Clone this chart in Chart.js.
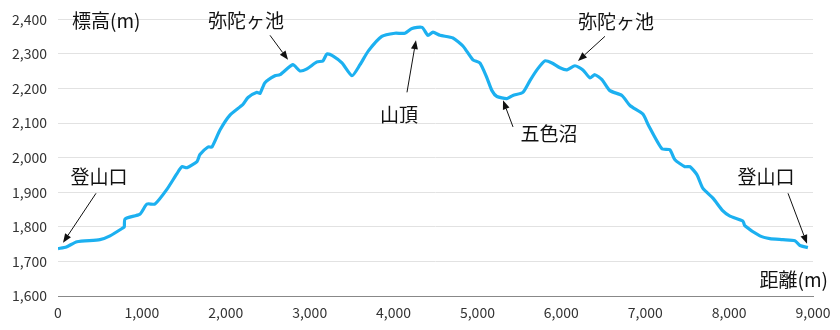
<!DOCTYPE html>
<html>
<head>
<meta charset="utf-8">
<script src="https://cdn.jsdelivr.net/npm/chart.js@4"></script>
<style>
  body { margin: 0; background: #fff; }
  #wrap { width: 840px; height: 330px; }
</style>
</head>
<body>
<div id="wrap"><canvas id="c"></canvas></div>
<script>
// distance (m) along the trail
const distance = [0, 100, 226, 500, 620, 775, 790, 800, 977, 1060, 1156, 1300, 1418, 1478, 1537, 1657, 1692,
  1788, 1835, 1931, 2050, 2205, 2265, 2372, 2408, 2467, 2586, 2646, 2800, 2884, 2968, 3087, 3158, 3206,
  3280, 3385, 3504, 3600, 3700, 3860, 4017, 4135, 4220, 4340, 4410, 4470, 4553, 4708, 4827, 4946, 5030,
  5113, 5173, 5232, 5351, 5423, 5542, 5626, 5709, 5804, 5888, 5983, 6067, 6162, 6257, 6341, 6400, 6484,
  6579, 6722, 6818, 6973, 7032, 7199, 7294, 7354, 7473, 7533, 7616, 7688, 7807, 7926, 8010, 8164, 8188,
  8367, 8486, 8641, 8784, 8844, 8939];
// elevation (m)
const elevation = [1737, 1742, 1757, 1763, 1774, 1797, 1800, 1823, 1837, 1866, 1866, 1909, 1954, 1974, 1971, 1989, 2009,
  2031, 2031, 2080, 2123, 2154, 2174, 2189, 2186, 2217, 2237, 2240, 2269, 2251, 2257, 2277, 2280, 2300,
  2294, 2274, 2237, 2269, 2309, 2351, 2360, 2360, 2374, 2377, 2354, 2363, 2354, 2346, 2323, 2283, 2274,
  2231, 2194, 2177, 2171, 2180, 2189, 2223, 2254, 2280, 2274, 2260, 2254, 2266, 2254, 2231, 2240, 2226,
  2194, 2180, 2151, 2126, 2097, 2026, 2023, 1994, 1974, 1974, 1951, 1911, 1883, 1846, 1831, 1817, 1803,
  1774, 1766, 1763, 1760, 1746, 1740];
const xTicks = [0, 1000, 2000, 3000, 4000, 5000, 6000, 7000, 8000, 9000];
const yTicks = [1600, 1700, 1800, 1900, 2000, 2100, 2200, 2300, 2400];

// place labels: text at (tx,ty), arrow from (ax,ay) to (bx,by), all in data units
const callouts = [
  { text: '登山口', tx: 489, ty: 1946, ax: 453, ay: 1897, bx: 60, by: 1754 },
  { text: '弥陀ヶ池', tx: 2241, ty: 2397, ax: 2527, ay: 2354, bx: 2742, by: 2283 },
  { text: '山頂', tx: 4065, ty: 2123, ax: 4160, ay: 2189, bx: 4267, by: 2340 },
  { text: '五色沼', tx: 5853, ty: 2069, ax: 5424, ay: 2089, bx: 5305, by: 2166 },
  { text: '弥陀ヶ池', tx: 6652, ty: 2394, ax: 6520, ay: 2351, bx: 6199, by: 2280 },
  { text: '登山口', tx: 8440, ty: 1946, ax: 8702, ay: 1897, bx: 8929, by: 1751 }
];

const JP = '"Noto Sans CJK JP", "Noto Sans", sans-serif';

const calloutPlugin = {
  id: 'callouts',
  afterDatasetsDraw(chart) {
    const { ctx, scales: { x, y } } = chart;
    ctx.save();
    ctx.fillStyle = '#111';
    ctx.strokeStyle = '#111';
    ctx.font = '19px ' + JP;
    ctx.textBaseline = 'middle';
    ctx.textAlign = 'center';
    callouts.forEach(c => {
      ctx.fillText(c.text, x.getPixelForValue(c.tx), y.getPixelForValue(c.ty));
      const x1 = x.getPixelForValue(c.ax), y1 = y.getPixelForValue(c.ay);
      const x2 = x.getPixelForValue(c.bx), y2 = y.getPixelForValue(c.by);
      const ang = Math.atan2(y2 - y1, x2 - x1);
      const len = 9, w = 3.5;
      const hx = x2 - len * Math.cos(ang), hy = y2 - len * Math.sin(ang);
      ctx.lineWidth = 1;
      ctx.beginPath();
      ctx.moveTo(x1, y1);
      ctx.lineTo(hx, hy);
      ctx.stroke();
      ctx.beginPath();
      ctx.moveTo(x2, y2);
      ctx.lineTo(hx + w * Math.sin(ang), hy - w * Math.cos(ang));
      ctx.lineTo(hx - w * Math.sin(ang), hy + w * Math.cos(ang));
      ctx.closePath();
      ctx.fill();
    });
    // axis titles
    ctx.textAlign = 'left';
    ctx.fillText('標高(m)', x.getPixelForValue(167), y.getPixelForValue(2397));
    ctx.textAlign = 'right';
    ctx.fillText('距離(m)', x.getPixelForValue(9179), y.getPixelForValue(1646));
    ctx.restore();
  }
};

new Chart(document.getElementById('c'), {
  type: 'line',
  data: {
    datasets: [{
      data: distance.map((d, i) => ({ x: d, y: elevation[i] })),
      borderColor: '#1cb0f0',
      borderWidth: 3.2,
      pointRadius: 0,
      tension: 0.2,
      fill: false
    }]
  },
  options: {
    responsive: true,
    maintainAspectRatio: false,
    animation: false,
    layout: { padding: { top: 16, right: 27, left: 0, bottom: 0 } },
    plugins: { legend: { display: false }, tooltip: { enabled: false } },
    scales: {
      x: {
        type: 'linear',
        min: 0, max: 9000,
        afterBuildTicks: s => { s.ticks = xTicks.map(v => ({ value: v })); },
        afterFit: s => { s.height = 34; },
        grid: { display: false, drawTicks: false },
        border: { display: true, color: '#888', width: 1 },
        ticks: { padding: 8, color: '#333', font: { family: JP, size: 14 }, maxRotation: 0,
          callback: v => v.toLocaleString('en-US') }
      },
      y: {
        min: 1600, max: 2400,
        afterBuildTicks: s => { s.ticks = yTicks.map(v => ({ value: v })); },
        afterFit: s => { s.width = 58; },
        grid: { color: '#e2e2e2', drawTicks: false },
        border: { display: false },
        ticks: { padding: 11, color: '#333', font: { family: JP, size: 14 },
          callback: v => v.toLocaleString('en-US') }
      }
    }
  },
  plugins: [calloutPlugin]
});
</script>
</body>
</html>
